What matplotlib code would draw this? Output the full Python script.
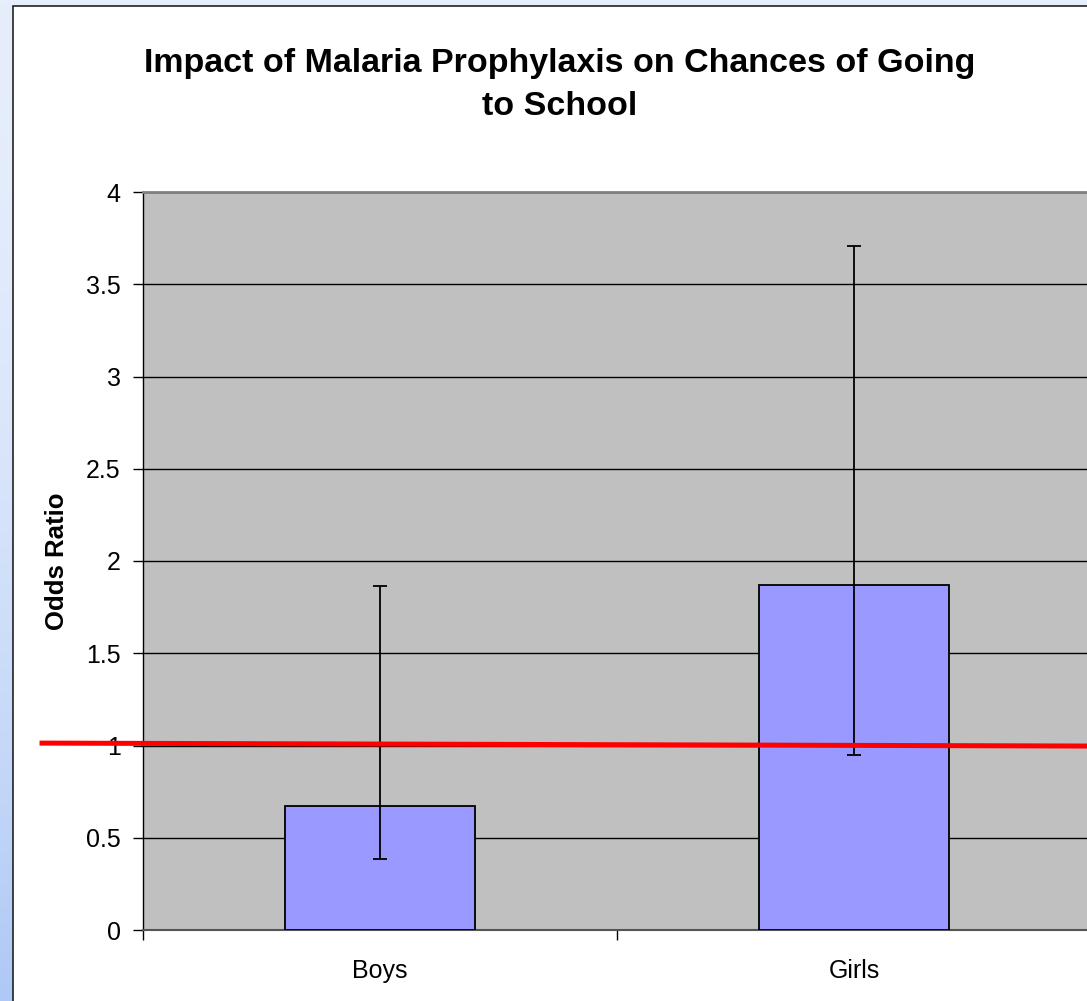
import numpy as np
import matplotlib
matplotlib.use("Agg")
import matplotlib.pyplot as plt
from matplotlib.patches import Rectangle

plt.rcParams['font.family'] = ['Liberation Sans', 'DejaVu Sans']

categories = ["Boys", "Girls"]
odds_ratio = [0.67, 1.87]
ci_lower = [0.385, 0.95]
ci_upper = [1.865, 3.707]
ref_line_x = [-0.713, 1.5]
ref_line_y = [1.013, 0.997]
yticks = [0, 0.5, 1, 1.5, 2, 2.5, 3, 3.5, 4]
ytick_labels = ["0", "0.5", "1", "1.5", "2", "2.5", "3", "3.5", "4"]

W, H = 1087, 1001
fig = plt.figure(figsize=(W / 100, H / 100), dpi=100)

# background gradient
bg = fig.add_axes([0, 0, 1, 1])
bg.set_axis_off()
c_top = np.array([0xe6, 0xee, 0xfc]) / 255
c_bot = np.array([0xae, 0xc9, 0xf6]) / 255
t = (np.linspace(0, 1, 256)[:, None]) ** 1.8
grad = c_top[None, :] * (1 - t) + c_bot[None, :] * t
grad = np.repeat(grad[:, None, :], 2, axis=1)
bg.imshow(grad, aspect='auto', extent=[0, 1, 0, 1], origin='upper')
bg.set_xlim(0, 1)
bg.set_ylim(0, 1)
bg.add_patch(Rectangle((13 / W, -0.1), 1.2, 1.1 - 6 / H, transform=bg.transAxes,
                       facecolor='white', edgecolor='#222222', linewidth=1.2))

ax = fig.add_axes([143 / W, (H - 930) / H, (1091 - 143) / W, (930 - 192) / H])
ax.set_facecolor('#c0c0c0')
x = np.arange(len(categories))
yerr = [np.array(odds_ratio) - np.array(ci_lower), np.array(ci_upper) - np.array(odds_ratio)]
ax.bar(x, odds_ratio, width=0.40, color='#9999ff', edgecolor='black', linewidth=1.3, zorder=3)
ax.errorbar(x, odds_ratio, yerr=yerr, fmt='none', ecolor='black', elinewidth=1.3,
            capsize=4.8, capthick=1.3, zorder=4)
ax.set_xlim(-0.5, 1.5)
ax.set_ylim(0, 4)
ax.set_yticks(yticks)
ax.set_yticklabels(ytick_labels)
ax.yaxis.grid(True, color='black', linewidth=1.0, zorder=1)
ax.set_axisbelow(True)
ax.set_xticks([-0.5, 0.5, 1.5])
ax.set_xticklabels([])
ax.set_xticks(x, minor=True)
ax.set_xticklabels(categories, minor=True)
ax.tick_params(axis='x', which='minor', length=0, pad=21, labelsize=18)
ax.tick_params(axis='x', which='major', length=7, direction='out', width=1)
ax.tick_params(axis='y', length=7, direction='out', width=1, labelsize=18, pad=9)
for s in ['top', 'right']:
    ax.spines[s].set_color('#808080')
    ax.spines[s].set_linewidth(2)
ax.spines['bottom'].set_color('#555555')
ax.spines['bottom'].set_linewidth(1.5)
ax.spines['left'].set_color('black')
ax.spines['left'].set_linewidth(1)
ax.set_ylabel("Odds Ratio", fontsize=18.5, fontweight='bold', labelpad=12)

ax.plot(ref_line_x, ref_line_y, color='#ff0000', linewidth=3.6, clip_on=False, zorder=6)

fig.text(560 / W, 1 - 85 / H, "Impact of Malaria Prophylaxis on Chances of Going\nto School",
         ha='center', va='center', fontsize=24.5, fontweight='bold', linespacing=1.47)

fig.savefig("out.png", dpi=100)
